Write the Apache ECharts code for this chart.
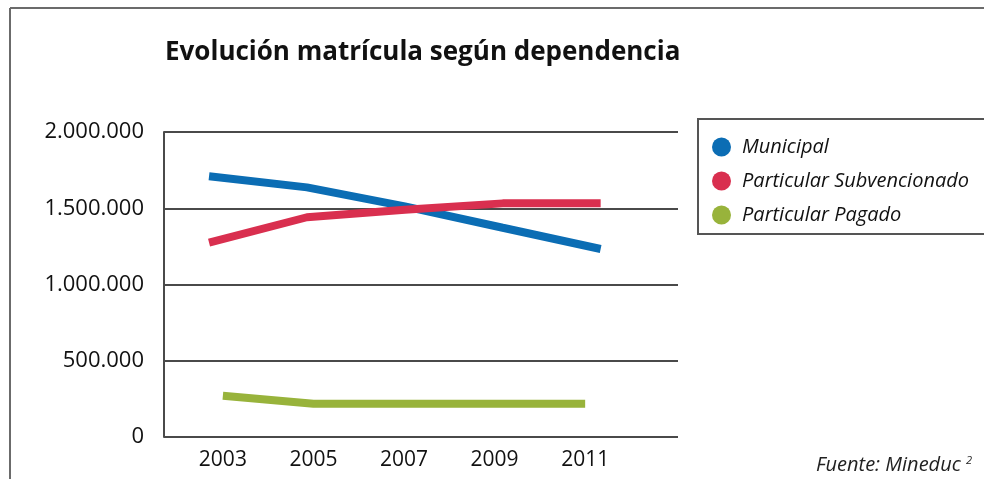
<!DOCTYPE html>
<html>
<head>
<meta charset="utf-8">
<script src="https://cdn.jsdelivr.net/npm/echarts@6/dist/echarts.min.js"></script>
<style>
  html, body { margin: 0; padding: 0; background: #fff; }
  #chart { width: 984px; height: 479px; }
</style>
</head>
<body>
<div id="chart"></div>
<script>
// datos
const years = [2003, 2005, 2007, 2009, 2011];
const yearLabels = [2003, 2005, 2007, 2009, 2011];
const municipal = [1710000, 1637000, 1512000, 1372000, 1233000];
const subvencionado = [1274000, 1441000, 1490000, 1532000, 1532000];
const pagado = [271000, 218000, 218000, 218000, 218000];

const FONT = 'Open Sans';

const pairs = (vals) => years.map((y, i) => [y, vals[i]]);
const fmtMiles = (v) => String(v).replace(/\B(?=(\d{3})+(?!\d))/g, '.');

const chart = echarts.init(document.getElementById('chart'), null, { renderer: 'canvas' });

const option = {
  backgroundColor: '#fff',
  animation: false,
  title: [
    {
      text: 'Evolución matrícula según dependencia',
      left: 165,
      top: 40,
      padding: 0,
      textStyle: { fontFamily: FONT, fontWeight: 'bold', fontSize: 26, color: '#111' }
    },
    {
      text: 'Fuente: Mineduc {sup|2}',
      left: 816,
      top: 455,
      padding: 0,
      textStyle: {
        fontFamily: FONT, fontStyle: 'italic', fontWeight: 'normal', fontSize: 20, color: '#222',
        rich: { sup: { fontSize: 11, fontStyle: 'italic', verticalAlign: 'top', color: '#222' } }
      }
    }
  ],
  legend: {
    orient: 'vertical',
    left: 698,
    top: 119,
    padding: [18, 40, 9, 14],
    borderColor: '#555',
    borderWidth: 2,
    icon: 'circle',
    itemWidth: 19,
    itemHeight: 19,
    itemGap: 14,
    textStyle: { fontFamily: FONT, fontStyle: 'italic', fontSize: 20, color: '#111', padding: [0, 0, 0, 6] },
    data: ['Municipal', 'Particular Subvencionado', 'Particular Pagado']
  },
  grid: { left: 164, right: 306, top: 132, bottom: 42 },
  xAxis: [
    {
      type: 'value',
      min: 2001.7,
      max: 2013.05,
      axisLine: { show: false },
      axisTick: { show: false },
      splitLine: { show: false },
      axisLabel: {
        customValues: yearLabels,
        formatter: (v) => String(v),
        fontFamily: FONT, fontSize: 21, color: '#111', margin: 13
      }
    },
    {
      type: 'value',
      show: false,
      min: 2002.08,
      max: 2012.58,
      splitLine: { show: false }
    }
  ],
  yAxis: {
    type: 'value',
    min: 0,
    max: 2000000,
    interval: 500000,
    axisLine: { show: true, lineStyle: { color: '#4a4a4a', width: 2 } },
    axisTick: { show: false },
    splitLine: { show: true, lineStyle: { color: '#4a4a4a', width: 2 } },
    axisLabel: {
      formatter: (v) => fmtMiles(v),
      fontFamily: FONT, fontSize: 22, color: '#111', margin: 20,
      padding: [0, 0, 5, 0]
    }
  },
  series: [
    {
      name: 'Municipal',
      type: 'line',
      xAxisIndex: 1,
      data: pairs(municipal),
      showSymbol: false,
      symbol: 'circle',
      itemStyle: { color: '#0b6db4' },
      lineStyle: { color: '#0b6db4', width: 8, cap: 'butt' },
      z: 3
    },
    {
      name: 'Particular Subvencionado',
      type: 'line',
      xAxisIndex: 1,
      data: pairs(subvencionado),
      showSymbol: false,
      symbol: 'circle',
      itemStyle: { color: '#d92f4f' },
      lineStyle: { color: '#d92f4f', width: 8, cap: 'butt' },
      z: 4
    },
    {
      name: 'Particular Pagado',
      type: 'line',
      xAxisIndex: 0,
      data: pairs(pagado),
      showSymbol: false,
      symbol: 'circle',
      itemStyle: { color: '#98b33b' },
      lineStyle: { color: '#98b33b', width: 8, cap: 'butt' },
      z: 3
    }
  ],
  graphic: [
    // marco gris superior e izquierdo
    { type: 'line', shape: { x1: 10, y1: 8, x2: 984, y2: 8 }, style: { stroke: '#6b6b6b', lineWidth: 2 }, silent: true },
    { type: 'line', shape: { x1: 10, y1: 8, x2: 10, y2: 479 }, style: { stroke: '#6b6b6b', lineWidth: 2 }, silent: true }
  ]
};

chart.setOption(option);
</script>
</body>
</html>
